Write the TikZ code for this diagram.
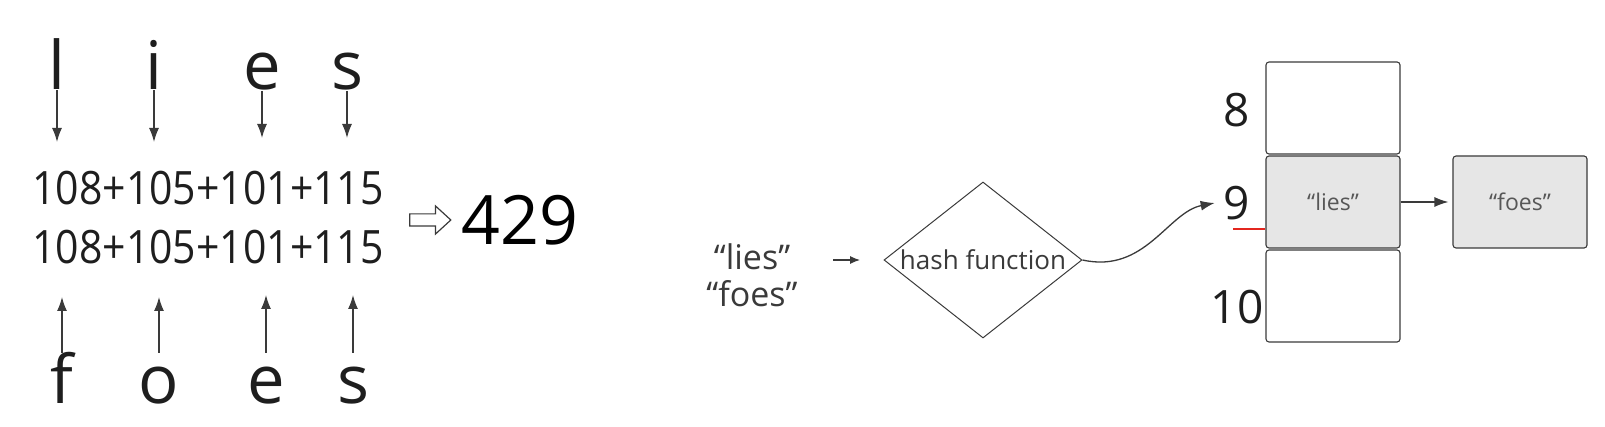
\documentclass[tikz,border=0pt]{standalone}
\usepackage{fontspec}
\setmainfont{Open Sans}
\newfontfamily\nar[FakeStretch=0.89]{Open Sans}
\usepackage{tikz}
\usetikzlibrary{positioning}
\usetikzlibrary{shapes.geometric, shapes.arrows}
\usetikzlibrary {arrows.meta}
\usepackage{xcolor}
\definecolor{ink}{HTML}{1E1E1E}
\definecolor{dk}{HTML}{3A3A3A}
\definecolor{cell}{HTML}{E6E6E6}
\definecolor{redmark}{HTML}{E3261F}

\begin{document}
\begin{tikzpicture}[x=1pt, y=-1pt,
		ch/.style = {font=\fontsize{67}{67}\selectfont, text=ink, inner sep=0, text height=50pt, anchor=base},
		sm/.style = {font=\nar\fontsize{46}{46}\selectfont, text=ink, inner sep=0, anchor=base},
		num/.style = {font=\fontsize{46}{46}\selectfont, text=ink, inner sep=0},
		q/.style = {font=\fontsize{34}{34}\selectfont, text=dk, inner sep=0, anchor=base},
		bx/.style = {rectangle, draw=dk, rounded corners=3pt, line width=1.1pt, minimum width=134pt, minimum height=92pt, font=\fontsize{23}{23}\selectfont, text=dk!85},
		r/.style = {-{Latex[length=14pt, width=10pt]}, draw=dk, line width=1.3pt},
		rs/.style = {-{Latex[length=10pt, width=8pt]}, draw=dk, line width=1.1pt},
		]
		\useasboundingbox (0,0) rectangle (1605,427);

		\node[ch]	(l)		at	(57, 90)		{l};
		\node[ch]	(i)		at	(154, 90)		{i};
		\node[ch]	(e1)	at	(262, 90)		{e};
		\node[ch]	(s1)	at	(347, 90)		{s};

		\coordinate	(la)	at	(57, 142);
		\coordinate	(ia)	at	(154, 142);
		\coordinate	(ea)	at	(262, 138);
		\coordinate	(sa)	at	(347, 138);

		\draw[r]	(l.south)	--	(la);
		\draw[r]	(i.south)	--	(ia);
		\draw[r]	(e1.south)	--	(ea);
		\draw[r]	(s1.south)	--	(sa);

		\node[sm]	(sumA)	at	(208, 205)		{108+105+101+115};
		\node[sm]	(sumB)	at	(208, 264)		{108+105+101+115};

		\node[single arrow, draw=dk, line width=1.2pt, inner xsep=0, inner ysep=5.5pt,
			minimum height=41pt, single arrow head extend=8pt, single arrow tip angle=85]
					(imp)	at	(427, 220)		{};
		\node[font=\fontsize{68}{68}\selectfont, text=black, inner sep=0, anchor=base]
					(res)	at	(520, 245)		{429};

		\node[ch]	(f)		at	(62, 403)		{f};
		\node[ch]	(o)		at	(159, 403)		{o};
		\node[ch]	(e2)	at	(266, 403)		{e};
		\node[ch]	(s2)	at	(353, 403)		{s};

		\coordinate	(fa)	at	(62, 297);
		\coordinate	(oa)	at	(159, 297);
		\coordinate	(eb)	at	(266, 295);
		\coordinate	(sb)	at	(353, 295);

		\draw[r]	(f.north)	--	(fa);
		\draw[r]	(o.north)	--	(oa);
		\draw[r]	(e2.north)	--	(eb);
		\draw[r]	(s2.north)	--	(sb);

		\node[q]	(ql)	at	(752, 270)		{“lies”};
		\node[q]	(qf)	at	(752, 307)		{“foes”};

		\coordinate	(in1)	at	(833, 260);
		\coordinate	(in2)	at	(860, 260);
		\draw[rs]	(in1)	--	(in2);

		\node[diamond, draw=dk, line width=1pt, aspect=1.27, inner sep=0,
			minimum width=198pt, minimum height=156pt,
			font=\fontsize{26}{26}\selectfont, text=dk]
					(hash)	at	(983, 260)		{hash function};

		\node[bx]				(b8)	at	(1333, 108)		{};
		\node[bx, fill=cell]	(b9)	at	(1333, 202)		{“lies”};
		\node[bx]				(b10)	at	(1333, 296)		{};
		\node[bx, fill=cell]	(bf)	at	(1520, 202)		{“foes”};

		\node[num]	(n8)	at	(1237, 110)		{8};
		\node[num]	(n9)	at	(1237, 203)		{9};
		\node[num]	(n10)	at	(1237, 307)		{10};

		\draw[redmark, line width=1.3pt]	(1233, 229)	--	(1265, 229);

		\draw[r]	(hash.east)	.. controls (1145, 274) and (1168, 212) ..	([xshift=-9pt]n9.west);
		\draw[r, shorten >=4pt]	(b9)	--	(bf);
	\end{tikzpicture}
\end{document}
